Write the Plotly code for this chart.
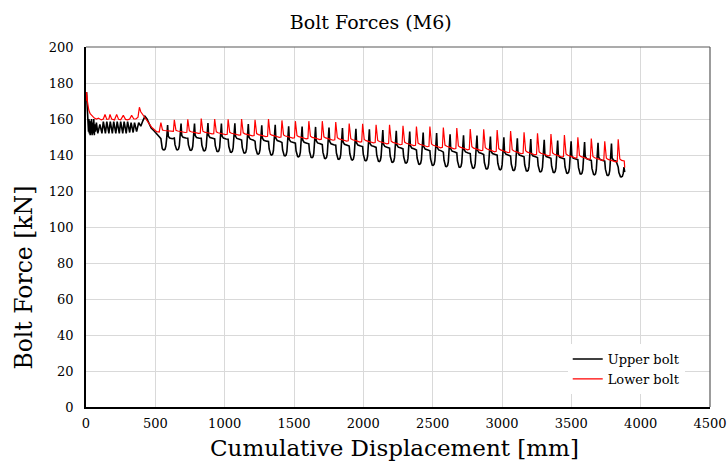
import plotly.graph_objects as go

# ---- bedding-in stage (before regular cycling) ----
early_disp_lower = [0, 4, 10, 20, 30, 45, 60, 75, 90, 110, 125, 137, 150, 165, 173, 185, 205,
                    221, 235, 250, 269, 285, 300, 315, 329, 345, 360, 375, 385, 395, 413, 437,
                    473, 510, 528]
early_force_lower = [170, 175, 170, 165, 163, 161.5, 160.5, 160, 160.5, 159.5, 160, 162.5, 159.8,
                     160, 162.5, 160, 159.5, 162.5, 159.8, 159.5, 162, 159.8, 159.5, 160, 162,
                     160, 160, 161, 166.5, 164, 162, 159, 155.5, 153, 152.8]

early_disp_upper = [0, 4, 8, 12, 15, 18, 21, 24, 27, 30, 33, 36, 40, 44, 48, 52, 56, 60, 64, 68,
                    75, 85, 100, 115, 125, 140, 150, 165, 175, 190, 200, 215, 225, 240, 250, 265,
                    275, 290, 300, 315, 325, 340, 350, 365, 380, 395, 410, 425, 440, 455, 470,
                    490, 510, 530]
early_force_upper = [170, 175, 168, 158, 162, 153, 160, 152, 159, 151, 158, 152, 160, 151, 158,
                     152, 160, 151, 157, 153, 158, 152, 157, 152, 158.5, 152, 158.5, 152, 158.5,
                     152, 158.5, 152, 158.5, 152, 158.5, 152, 158.5, 152, 158.5, 152.5, 158,
                     152.5, 158, 153, 158, 156, 159, 161.5, 160, 157.5, 155, 153.5, 152, 150]

# ---- regular cycling stage: one entry per loading cycle ----
cycle_disp = [540, 637, 734, 831, 928, 1025, 1122, 1219, 1316, 1413, 1510, 1607, 1704, 1801,
              1898, 1995, 2092, 2189, 2286, 2383, 2480, 2577, 2674, 2771, 2868, 2965, 3062,
              3159, 3256, 3353, 3450, 3547, 3644, 3741, 3838]
lower_peak = [158.0, 159.5, 159.8, 160.2, 160.0, 159.8, 160.0, 159.5, 160.0, 159.2, 158.8, 158.8,
              158.8, 158.3, 157.5, 157.3, 156.8, 156.8, 156.2, 155.8, 155.8, 155.2, 155.0, 154.4,
              154.3, 153.9, 153.3, 152.6, 152.0, 151.7, 151.1, 149.8, 149.2, 147.6, 148.7]
lower_base = [153.0, 152.5, 152.0, 151.7, 151.3, 151.0, 150.6, 150.2, 149.8, 149.4, 149.0, 148.6,
              148.2, 147.7, 147.2, 146.7, 146.2, 145.7, 145.2, 144.6, 144.0, 143.4, 142.9, 142.4,
              141.8, 141.3, 140.7, 140.1, 139.5, 138.9, 138.3, 137.6, 137.0, 136.2, 135.4]
upper_peak = [156.7, 157.5, 157.5, 157.8, 157.5, 157.6, 157.2, 156.5, 156.8, 156.0, 155.8, 155.6,
              155.2, 155.0, 154.5, 154.3, 153.8, 153.5, 153.0, 152.5, 152.2, 151.5, 151.0, 150.8,
              150.2, 149.8, 149.3, 148.8, 148.4, 148.0, 147.6, 147.2, 146.8, 146.3, 140.0]
upper_trough = [142.8, 142.8, 142.6, 142.3, 141.9, 141.5, 141.0, 140.5, 140.0, 139.5, 139.0,
                138.5, 138.0, 137.6, 137.2, 136.8, 136.4, 135.9, 135.5, 134.8, 134.2, 133.5,
                133.1, 132.6, 132.2, 131.8, 131.4, 131.0, 130.6, 130.2, 129.8, 129.4, 129.0,
                128.6, 127.8]
cycle_length = 97
end_disp = 3885
end_force_lower = 133.0
end_force_upper = 130.5

# waveform within one cycle: (phase, fraction between low and high level)
LOWER_SHAPE = [(0.00, 1.0), (0.05, 0.45), (0.12, 0.18), (0.25, 0.12), (0.45, 0.10),
               (0.55, 0.06), (0.80, 0.0), (0.93, 0.02)]
UPPER_SHAPE = [(0.00, 0.45), (0.05, 0.2), (0.10, 0.06), (0.17, 0.01), (0.24, 0.0),
               (0.31, 0.03), (0.37, 0.15), (0.43, 0.45), (0.50, 1.0), (0.55, 0.55),
               (0.65, 0.48), (0.85, 0.45)]


def build(early_x, early_y, highs, lows, shape, end_y):
    xs, ys = list(early_x), list(early_y)
    for x0, hi, lo in zip(cycle_disp, highs, lows):
        for ph, fr in shape:
            x = x0 + ph * cycle_length
            if x >= end_disp:
                break
            xs.append(x)
            ys.append(lo + fr * (hi - lo))
    xs.append(end_disp)
    ys.append(end_y)
    return xs, ys


ux, uy = build(early_disp_upper, early_force_upper, upper_peak, upper_trough, UPPER_SHAPE,
               end_force_upper)
lx, ly = build(early_disp_lower, early_force_lower, lower_peak, lower_base, LOWER_SHAPE,
               end_force_lower)

SERIF = "DejaVu Serif"

fig = go.Figure()
fig.add_trace(go.Scatter(x=ux, y=uy, mode="lines", name="Upper bolt",
                         line=dict(color="black", width=1.6)))
fig.add_trace(go.Scatter(x=lx, y=ly, mode="lines", name="Lower bolt",
                         line=dict(color="#ff0000", width=1.2)))

axis_common = dict(showgrid=True, gridcolor="#d9d9d9", gridwidth=1, zeroline=False,
                   showline=True, linecolor="black", linewidth=1.5, mirror=False,
                   ticks="", automargin=False,
                   tickfont=dict(family=SERIF, size=13, color="black"))
fig.update_xaxes(range=[0, 4500], dtick=500, tick0=0, ticklabelstandoff=4, **axis_common)
fig.update_yaxes(range=[0, 200], dtick=20, tick0=0, ticklabelstandoff=8, **axis_common)

# top and right frame of the plotting area
frame = dict(type="line", xref="paper", yref="paper", line=dict(color="#595959", width=1.2))

fig.update_layout(
    width=727, height=462,
    margin=dict(l=86, r=17, t=47, b=55),
    paper_bgcolor="white", plot_bgcolor="white",
    font=dict(family=SERIF, color="black"),
    title=dict(text="Bolt Forces (M6)", x=0.51, xref="container", xanchor="center",
               y=0.952, yref="container", yanchor="middle",
               font=dict(family=SERIF, size=19, color="black")),
    showlegend=True,
    legend=dict(x=0.772, y=0.175, xanchor="left", yanchor="top", bgcolor="white",
                borderwidth=0, font=dict(family=SERIF, size=13, color="black"),
                itemwidth=30, tracegroupgap=2),
    shapes=[
        dict(frame, x0=0, x1=1, y0=1, y1=1),
        dict(frame, x0=1, x1=1, y0=0, y1=1),
    ],
    annotations=[
        dict(text="Cumulative Displacement [mm]", xref="paper", yref="paper",
             x=0.495, y=-0.113, xanchor="center", yanchor="middle", showarrow=False,
             font=dict(family=SERIF, size=23, color="black")),
        dict(text="Bolt Force [kN]", xref="paper", yref="paper", textangle=-90,
             x=-0.099, y=0.36, xanchor="center", yanchor="middle", showarrow=False,
             font=dict(family=SERIF, size=23.5, color="black")),
    ],
)

fig.write_html("out.html")
